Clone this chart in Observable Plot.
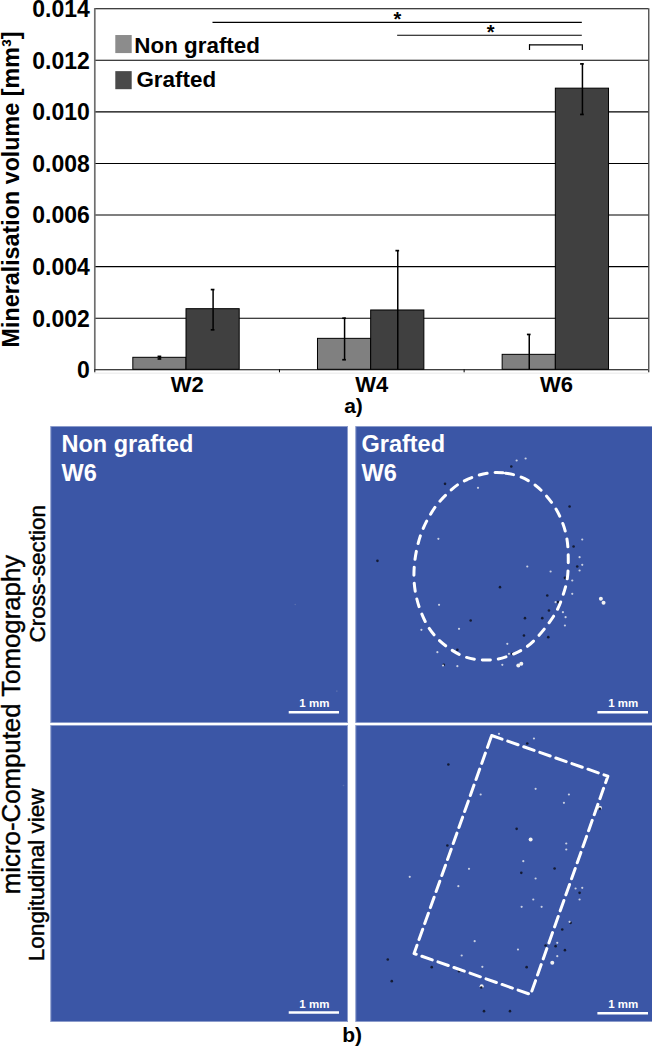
<!DOCTYPE html>
<html><head><meta charset="utf-8">
<script src="https://cdn.jsdelivr.net/npm/d3@7"></script>
<script src="https://cdn.jsdelivr.net/npm/@observablehq/plot@0.6"></script>
<style>html,body{margin:0;padding:0;background:#fff}svg{display:block}</style>
</head><body><div id="chart"></div>
<script>
const weeks = ["W2","W4","W6"];
const nonGrafted = [0.000465,0.0012,0.00058];
const nonGraftedHi = [0.00052,0.0020,0.00137];
const nonGraftedLo = [0.00042,0.00039,0];
const grafted = [0.00235,0.0023,0.0109];
const graftedHi = [0.00311,0.00462,0.01186];
const graftedLo = [0.00155,0,0.0099];
const yTicks = [0,0.002,0.004,0.006,0.008,0.010,0.012,0.014];
const groupNames = ["Non grafted","Grafted"];
const barFill = ["#808080","#404040"];
const swatchFill = ["#8c8c8c","#4a4a4a"];
const swatchY = [[0.01226,0.01296],[0.01086,0.01156]];
const legendTextX = [0.214,0.2255];
const legendTextY = [0.01257,0.01124];
const sigLines = [[0.64,2.64,0.01347],[1.64,2.64,0.01297],[2.354,2.64,0.0126]];
const sigStars = [[1.639,0.01395],[2.143,0.01345]];

const font = "'Liberation Sans',Arial,sans-serif";
const barW = 0.288, split = 0.4966;
const bars = [];
weeks.forEach((w,i)=>{
  bars.push({x1:i+split-barW,x2:i+split,y:nonGrafted[i],hi:nonGraftedHi[i],lo:nonGraftedLo[i],g:0});
  bars.push({x1:i+split,x2:i+split+barW,y:grafted[i],hi:graftedHi[i],lo:graftedLo[i],g:1});
});
bars.forEach(b=>b.c=(b.x1+b.x2)/2);

const chartA = Plot.plot({
  width:652,height:426,marginLeft:94.3,marginRight:3.7,marginTop:8.2,marginBottom:56.7,
  style:{fontFamily:font,background:"transparent",color:"#000"},
  x:{domain:[0,3],axis:null},y:{domain:[0,0.014],axis:null},
  marks:[
    Plot.ruleY([-0.00013],{stroke:"#e8e8e8",strokeWidth:1}),
    Plot.ruleY(yTicks,{stroke:"#000",strokeWidth:1.1}),
    Plot.ruleX([3],{stroke:"#222",strokeWidth:1.1}),
    Plot.ruleX([0],{stroke:"#6e6e6e",strokeWidth:1.7}),
    Plot.rect(bars,{x1:"x1",x2:"x2",y1:0,y2:"y",fill:d=>barFill[d.g],stroke:"#000",strokeWidth:1}),
    Plot.ruleX(bars,{x:"c",y1:"lo",y2:"hi",stroke:"#000",strokeWidth:1.5}),
    Plot.ruleY(bars.flatMap(b=>b.lo>0?[{c:b.c,v:b.hi},{c:b.c,v:b.lo}]:[{c:b.c,v:b.hi}]),{x1:d=>d.c-0.01,x2:d=>d.c+0.01,y:"v",stroke:"#000",strokeWidth:1.7}),
    Plot.axisX({ticks:[0,1,2,3],tickSize:3,tickFormat:()=>"",stroke:"#000"}),
    Plot.axisX({ticks:[0.5,1.5,2.5],tickSize:0,tickPadding:7,tickFormat:(d)=>weeks[Math.floor(d)],fontSize:22,fontWeight:"bold",fill:"#000"}),
    Plot.axisY({ticks:yTicks,tickSize:0,tickPadding:5,dy:1,tickFormat:d=>d===0?"0":d3.format(".3f")(d),fontSize:23,fontWeight:"bold",fill:"#000"}),
    Plot.text(["Mineralisation volume [mm³]"],{x:-0.451,y:0.00699,rotate:-90,fontSize:23.3,fontWeight:"bold",fill:"#000"}),
    Plot.text(["a)"],{x:1.401,y:-0.0014,fontSize:21,fontWeight:"bold",fill:"#000"}),
    Plot.rect(groupNames,{x1:0.1137,x2:0.2025,y1:(d,i)=>swatchY[i][0],y2:(d,i)=>swatchY[i][1],fill:(d,i)=>swatchFill[i]}),
    Plot.text(groupNames,{x:(d,i)=>legendTextX[i],y:(d,i)=>legendTextY[i],text:d=>d,textAnchor:"start",fontSize:22.4,fontWeight:"bold",fill:"#000"}),
    Plot.ruleY(sigLines,{x1:d=>d[0],x2:d=>d[1],y:d=>d[2],stroke:"#000",strokeWidth:1.2}),
    Plot.ruleX([2.354,2.64],{y1:0.01238,y2:0.0126,stroke:"#000",strokeWidth:1.2}),
    Plot.text(sigStars,{x:d=>d[0],y:d=>d[1],text:()=>"*",fontSize:20,fontWeight:"bold",fill:"#000",dy:10})
  ]
});

// lower panels: coordinates are on a panel grid where 152 units = 1 mm
const cols = ["Non grafted","Grafted"];
const rows = ["Cross-section","Longitudinal view"];
const blue = "#3b56a6";
const ringX = [405,450,497,540,573,601,622,634,638,635,622,604,578,547,512,470,425,376,330,287,248,218,196,182,175,176,183,196,216,242,274,310,357];
const ringY = [139,140,152,177,209,247,292,337,392,457,507,552,592,630,662,684,698,700,692,670,639,602,557,512,464,415,369,322,278,237,202,172,150];
const boxX = [408,757,525,175,408];
const boxY = [30,152,807,684,30];
const crossLight = [[483,102],[510,96],[367,184],[333,162],[248,337],[680,339],[672,392],[680,415],[672,432],[585,435],[515,420],[650,462],[650,502],[622,557],[630,572],[628,597],[455,652],[310,607],[250,535],[197,610],[245,677],[440,715],[262,717],[305,719],[600,527],[460,682]];
const crossBright = [[736,517],[744,529],[488,717],[497,712]];
const crossDark = [[268,172],[330,162],[467,120],[654,360],[665,420],[628,454],[575,507],[433,482],[508,575],[560,575],[580,552],[578,632],[505,627],[345,582],[305,670],[264,715],[607,527],[470,682],[642,240],[65,403]];
const longLight = [[540,190],[503,407],[540,459],[660,489],[680,487],[672,522],[642,589],[605,652],[605,692],[357,647],[318,690],[380,724],[430,25],[535,39],[375,207],[625,232],[640,207],[632,372],[632,354],[340,430],[162,454],[308,482],[533,522],[487,672],[558,544],[498,544]];
const longBright = [[525,342],[590,712],[378,782],[733,247]];
const longDark = [[278,117],[515,54],[733,250],[275,360],[96,702],[672,502],[600,662],[628,674],[570,660],[620,612],[228,725],[310,737],[513,725],[385,857],[463,857],[108,767],[483,310],[597,429],[497,442],[377,786],[645,592]];
const faintDark = [[734,534],[859,794]];
const faintLong = [[879,180]];

const tag = (arr,c,r,tone)=>arr.map(p=>({x:p[0],y:p[1],c:cols[c],r:rows[r],tone}));
const specks = [
  ...tag(faintDark,0,0,"faint"),...tag(faintLong,0,1,"faint"),
  ...tag(crossDark,1,0,"dark"),...tag(crossLight,1,0,"light"),...tag(crossBright,1,0,"bright"),
  ...tag(longDark,1,1,"dark"),...tag(longLight,1,1,"light"),...tag(longBright,1,1,"bright")
];
const toneFill = {faint:"#5a6fae",dark:"#141b33",light:"#c9d0e2",bright:"#f2f2f2"};
const toneR = {faint:0.8,dark:1.3,light:1.1,bright:2};
const panelLabels = [
  {c:cols[0],r:rows[0],x:32,y:53,t:"Non grafted"},
  {c:cols[0],r:rows[0],x:32,y:140,t:"W6"},
  {c:cols[1],r:rows[0],x:17,y:53,t:"Grafted"},
  {c:cols[1],r:rows[0],x:17,y:140,t:"W6"}
];
const scaleBars = [
  {c:cols[0],r:rows[0],x1:716,x2:867,y:857},{c:cols[0],r:rows[1],x1:716,x2:867,y:861},
  {c:cols[1],r:rows[0],x1:727,x2:879,y:857},{c:cols[1],r:rows[1],x1:727,x2:879,y:863}
];
const sideLabels = [
  {c:cols[0],r:rows[0],x:-40,y:442,t:"Cross-section",s:22.5},
  {c:cols[0],r:rows[1],x:-43,y:448,t:"Longitudinal view",s:22.5},
  {c:cols[0],r:rows[0],x:-117,y:894,t:"micro-Computed Tomography",s:25.8}
];

const chartB = Plot.plot({
  width:652,height:623,marginLeft:50.3,marginRight:0,marginTop:0,marginBottom:28,
  style:{fontFamily:font,background:"transparent",color:"#000"},
  x:{domain:[0,891],axis:null},y:{domain:[888,0],axis:null},r:{type:"identity"},
  fx:{domain:cols,axis:null,paddingInner:0.0272,paddingOuter:0,round:false},
  fy:{domain:rows,axis:null,paddingInner:0.0101,paddingOuter:0,round:false},
  marks:[
    Plot.frame({fill:blue,stroke:"#8b9bcb",strokeWidth:1}),
    Plot.dot(specks,{x:"x",y:"y",fx:"c",fy:"r",r:d=>toneR[d.tone],fill:d=>toneFill[d.tone]}),
    Plot.line(ringX.map((x,i)=>({x,y:ringY[i]})),{x:"x",y:"y",fx:()=>cols[1],fy:()=>rows[0],curve:"catmull-rom-closed",stroke:"#fff",strokeWidth:3,strokeDasharray:"8,8"}),
    Plot.line(boxX.map((x,i)=>({x,y:boxY[i]})),{x:"x",y:"y",fx:()=>cols[1],fy:()=>rows[1],stroke:"#fff",strokeWidth:3,strokeDasharray:"11,6"}),
    Plot.text(panelLabels,{x:"x",y:"y",fx:"c",fy:"r",text:"t",textAnchor:"start",fontSize:23.5,fontWeight:"bold",fill:"#fff"}),
    Plot.ruleY(scaleBars,{x1:"x1",x2:"x2",y:"y",fx:"c",fy:"r",stroke:"#fff",strokeWidth:2.5}),
    Plot.text(scaleBars,{x:d=>(d.x1+d.x2)/2,y:d=>d.y-26,fx:"c",fy:"r",text:()=>"1 mm",fontSize:11.5,fontWeight:"bold",fill:"#fff"}),
    Plot.text(sideLabels,{x:"x",y:"y",fx:"c",fy:"r",text:"t",rotate:-90,fontSize:"s",fill:"#000",stroke:"#000",strokeWidth:0.4}),
    Plot.text(["b)"],{x:905,y:930,fx:()=>cols[0],fy:()=>rows[1],fontSize:21,fontWeight:"bold",fill:"#000"})
  ]
});
document.getElementById("chart").append(chartA,chartB);
</script></body></html>
